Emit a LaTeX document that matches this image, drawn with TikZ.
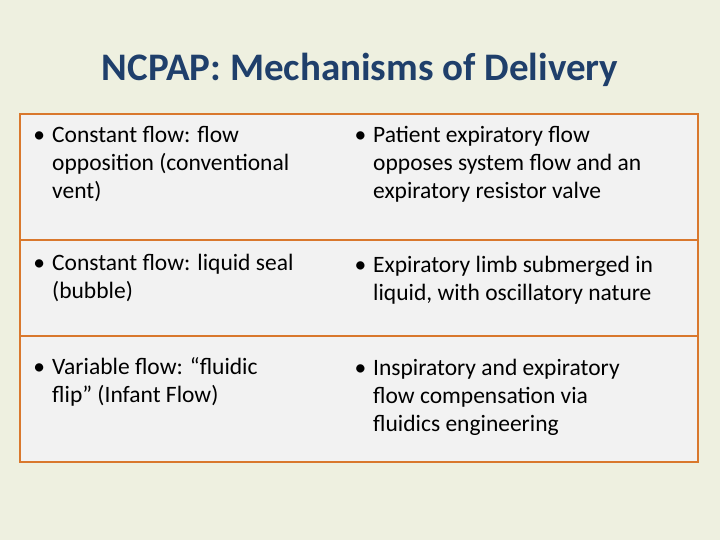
\documentclass[tikz,border=0pt]{standalone}
\usepackage{fontspec}
\setmainfont{Carlito}
\definecolor{bg}{HTML}{EEF0E0}
\definecolor{cell}{HTML}{F2F2F2}
\definecolor{brd}{HTML}{D9782D}
\definecolor{ttl}{HTML}{1F3F6B}
\newcommand{\bu}{\llap{\textbullet\hspace{7pt}}}
\begin{document}
\begin{tikzpicture}[x=1pt,y=-1pt,
  txt/.style={anchor=north west,inner sep=0pt,align=left,font=\fontsize{23.5}{28}\selectfont}]
\fill[bg] (0,0) rectangle (720,540);
\useasboundingbox (0,0) rectangle (720,540);
\fill[cell] (20,114) rectangle (698,462);
\draw[brd,line width=2.2pt] (20,114) rectangle (698,462);
\draw[brd,line width=2.2pt] (20,240) -- (698,240);
\draw[brd,line width=2.2pt] (20,336) -- (698,336);
\node (title) at (360,70) {\fontsize{39}{44}\selectfont\bfseries\color{ttl}NCPAP: Mechanisms of Delivery};
\node[txt] (a1) at (52,126) {\bu Constant flow: flow\\opposition (conventional\\vent)};
\node[txt] (b1) at (373,126) {\bu Patient expiratory flow\\opposes system flow and an\\expiratory resistor valve};
\node[txt] (a2) at (52,254) {\bu Constant flow: liquid seal\\(bubble)};
\node[txt] (b2) at (373,256) {\bu Expiratory limb submerged in\\liquid, with oscillatory nature};
\node[txt] (a3) at (52,357) {\bu Variable flow: “fluidic\\flip” (Infant Flow)};
\node[txt] (b3) at (373,359) {\bu Inspiratory and expiratory\\flow compensation via\\fluidics engineering};
\end{tikzpicture}
\end{document}
